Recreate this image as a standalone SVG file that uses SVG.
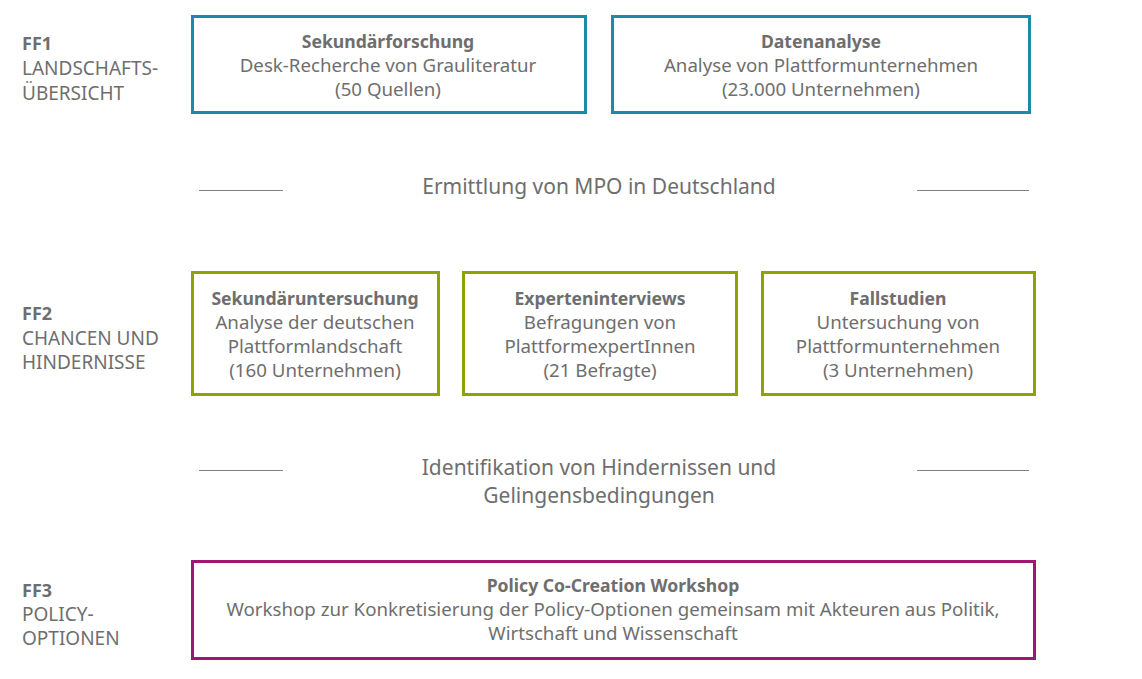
<svg xmlns="http://www.w3.org/2000/svg" width="1142" height="679" viewBox="0 0 1142 679">
<style>
text{font-family:"Noto Sans","Open Sans","Liberation Sans",sans-serif;fill:#6e6e6e;font-size:18.7px}
.lab{font-size:19px}
.c{text-anchor:middle}
.b{font-weight:bold;font-size:17.6px}
.lab.b{font-size:18px}
.mid{font-size:21px}
.box{fill:#fff;stroke-width:3}
.t{stroke:#1a8ba7}
.g{stroke:#8fa300}
.m{stroke:#9b1874}
.sep{stroke:#7f7f7f;stroke-width:1}
</style>
<rect width="1142" height="679" fill="#fff"/>
<g id="ff1-label"><text x="22" y="50" class="lab b">FF1</text><text x="22" y="75" class="lab">LANDSCHAFTS-</text><text x="22" y="100" class="lab">ÜBERSICHT</text></g>
<g id="ff2-label"><text x="22" y="320" class="lab b">FF2</text><text x="22" y="345" class="lab">CHANCEN UND</text><text x="22" y="369" class="lab">HINDERNISSE</text></g>
<g id="ff3-label"><text x="22" y="597" class="lab b">FF3</text><text x="22" y="621" class="lab">POLICY-</text><text x="22" y="645" class="lab">OPTIONEN</text></g>
<g id="sekundaerforschung"><rect class="box t" x="192.5" y="16.5" width="393" height="96"/>
<text x="388" y="48" class="c b">Sekundärforschung</text><text x="388" y="72" class="c">Desk-Recherche von Grauliteratur</text><text x="388" y="96" class="c">(50 Quellen)</text></g>
<g id="datenanalyse"><rect class="box t" x="612.5" y="16.5" width="417" height="96"/>
<text x="821" y="48" class="c b">Datenanalyse</text><text x="821" y="72" class="c">Analyse von Plattformunternehmen</text><text x="821" y="96" class="c">(23.000 Unternehmen)</text></g>
<g id="ermittlung"><text x="599" y="194" class="c mid">Ermittlung von MPO in Deutschland</text></g>
<g id="sekundaeruntersuchung"><rect class="box g" x="192.5" y="272.5" width="246" height="122"/>
<text x="315" y="305" class="c b">Sekundäruntersuchung</text><text x="315" y="329" class="c">Analyse der deutschen</text><text x="315" y="353" class="c">Plattformlandschaft</text><text x="315" y="377" class="c">(160 Unternehmen)</text></g>
<g id="experteninterviews"><rect class="box g" x="463.5" y="272.5" width="273" height="122"/>
<text x="600" y="305" class="c b">Experteninterviews</text><text x="600" y="329" class="c">Befragungen von</text><text x="600" y="353" class="c">PlattformexpertInnen</text><text x="600" y="377" class="c">(21 Befragte)</text></g>
<g id="fallstudien"><rect class="box g" x="762.5" y="272.5" width="272" height="122"/>
<text x="898" y="305" class="c b">Fallstudien</text><text x="898" y="329" class="c">Untersuchung von</text><text x="898" y="353" class="c">Plattformunternehmen</text><text x="898" y="377" class="c">(3 Unternehmen)</text></g>
<g id="identifikation"><text x="599" y="475" class="c mid">Identifikation von Hindernissen und</text><text x="599" y="503" class="c mid">Gelingensbedingungen</text></g>
<g id="workshop"><rect class="box m" x="192.5" y="561.5" width="842" height="97"/>
<text x="613" y="592" class="c b">Policy Co-Creation Workshop</text><text x="613" y="616" class="c">Workshop zur Konkretisierung der Policy-Optionen gemeinsam mit Akteuren aus Politik,</text><text x="613" y="640" class="c">Wirtschaft und Wissenschaft</text></g>
<g id="connectors">
<line class="sep" x1="199" y1="190.5" x2="283" y2="190.5"/><line class="sep" x1="917" y1="190.5" x2="1029" y2="190.5"/>
<line class="sep" x1="199" y1="470.5" x2="283" y2="470.5"/><line class="sep" x1="917" y1="470.5" x2="1029" y2="470.5"/>
</g>
</svg>
